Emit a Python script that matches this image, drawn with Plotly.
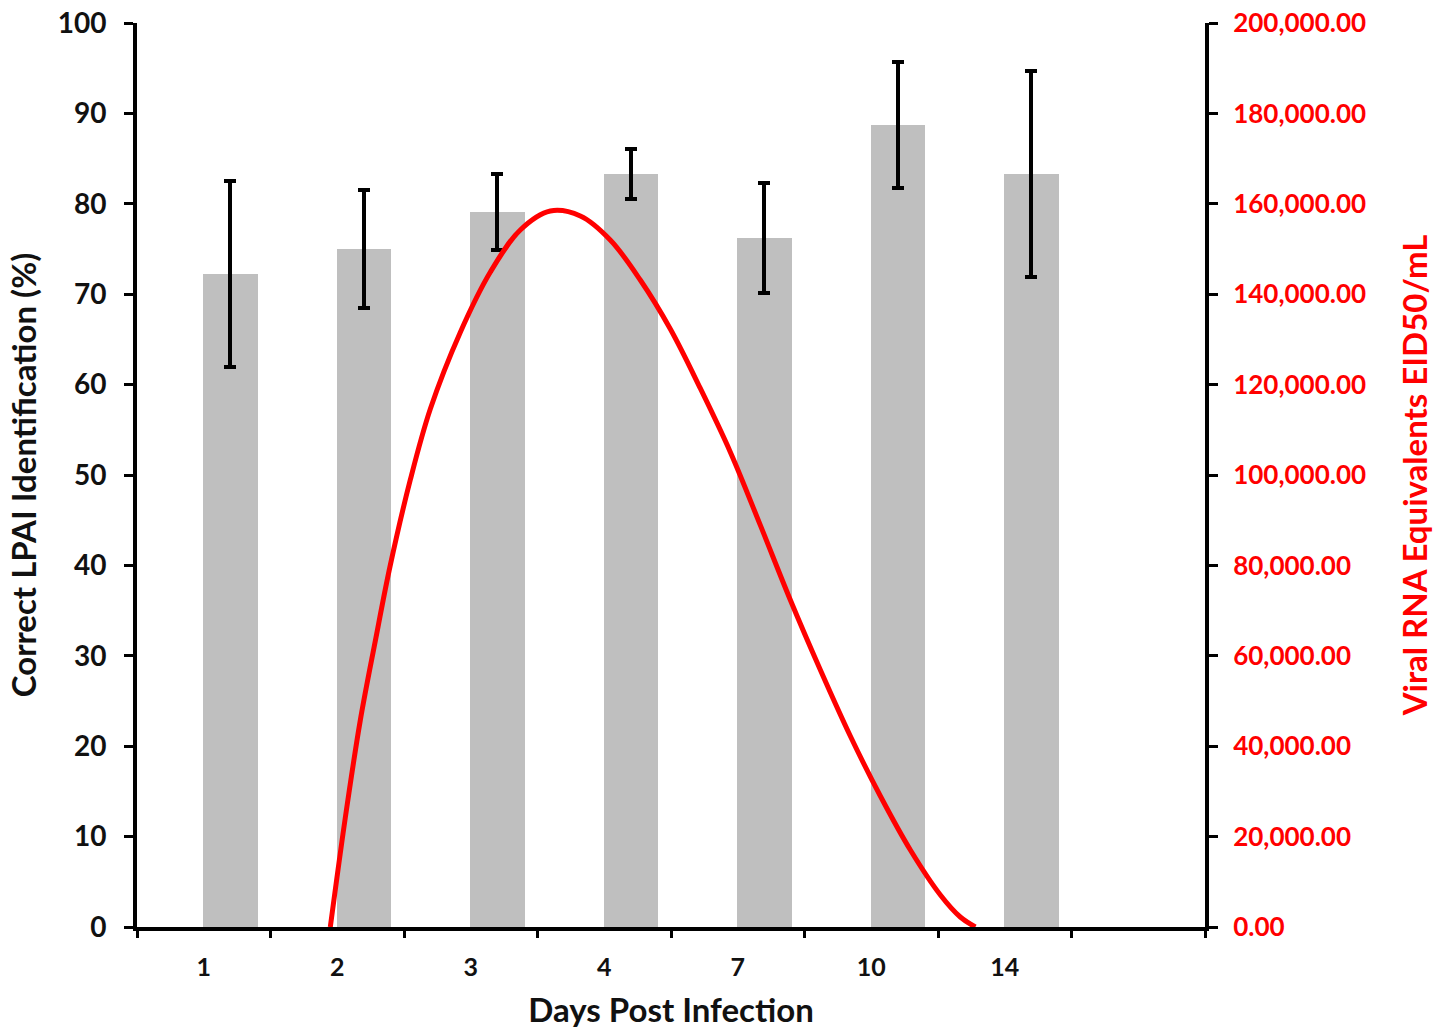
import plotly.graph_objects as go

# ---- data ----
days = ["1", "2", "3", "4", "7", "10", "14"]
correct_pct = [72.2, 75.0, 79.1, 83.3, 76.2, 88.7, 83.3]
correct_err = [10.3, 6.5, 4.2, 2.8, 6.1, 7.0, 11.4]

# viral RNA curve, read along the day-slot axis (slot units, 0..8)
viral_pos = [1.448, 1.560, 1.673, 1.785, 1.897, 2.047, 2.197, 2.422, 2.647, 2.871,
             3.096, 3.321, 3.545, 3.770, 3.995, 4.219, 4.444, 4.669, 4.894,
             5.119, 5.343, 5.568, 5.793, 6.018, 6.167, 6.280]
viral_load = [0, 24115, 45796, 63274, 80000, 98900, 114600, 131600, 144912, 154204,
              158400, 157301, 151992, 143142, 132300, 119200, 105100, 88900, 72345,
              56858, 42257, 28982, 17035, 7080, 2212, 0]

n_slots = 8
label_pos = [i + 0.5 for i in range(len(days))]
bar_pos = [i + 0.7 for i in range(len(days))]

FONT = "Lato"
INK = "#111111"

fig = go.Figure()
fig.add_trace(go.Bar(
    x=bar_pos, y=correct_pct, width=0.41,
    marker=dict(color="#BFBFBF", line=dict(width=0)),
    error_y=dict(type="data", array=correct_err, color="black", thickness=4, width=6),
    showlegend=False,
))
fig.add_trace(go.Scatter(
    x=viral_pos, y=viral_load, mode="lines",
    line=dict(color="#FF0000", width=5, shape="spline", smoothing=1.0),
    xaxis="x2", yaxis="y2", showlegend=False,
))

fig.update_layout(
    width=1447, height=1029,
    margin=dict(l=137, r=242, t=23, b=102),
    paper_bgcolor="white", plot_bgcolor="white",
    bargap=0,
    xaxis=dict(
        range=[0, n_slots], tickvals=label_pos, ticktext=days,
        ticks="", showgrid=False, zeroline=False, automargin=False,
        showline=True, linecolor="black", linewidth=4,
        ticklabelstandoff=15,
        tickfont=dict(family=FONT, size=25, color=INK, weight="bold"),
        title=dict(text="Days Post Infection", standoff=21,
                   font=dict(family=FONT, size=33, color=INK, weight="bold")),
    ),
    xaxis2=dict(
        range=[0, n_slots], overlaying="x", anchor="y", side="bottom",
        tickvals=list(range(n_slots + 1)), ticks="outside", ticklen=10, tickwidth=3,
        tickcolor="black", showticklabels=False, showgrid=False, zeroline=False,
        showline=False, automargin=False,
    ),
    yaxis=dict(
        range=[0, 100], tickvals=list(range(0, 101, 10)),
        ticks="outside", ticklen=9, tickwidth=3, tickcolor="black",
        showgrid=False, zeroline=False, automargin=False,
        showline=True, linecolor="black", linewidth=4,
        ticklabelstandoff=12,
        tickfont=dict(family=FONT, size=28, color=INK, weight="bold"),
        title=dict(text="Correct LPAI Identification (%)", standoff=12,
                   font=dict(family=FONT, size=33, color=INK, weight="bold")),
    ),
    yaxis2=dict(
        range=[0, 200000], tickvals=list(range(0, 200001, 20000)),
        tickformat=",.2f", overlaying="y", side="right", anchor="x2",
        ticks="outside", ticklen=9, tickwidth=3, tickcolor="black",
        showgrid=False, zeroline=False, automargin=False,
        showline=True, linecolor="black", linewidth=4,
        ticklabelstandoff=10,
        tickfont=dict(family=FONT, size=26, color="#FF0000", weight="bold"),
        title=dict(text="Viral RNA Equivalents EID50/mL", standoff=40,
                   font=dict(family=FONT, size=33, color="#FF0000", weight="bold")),
    ),
)

fig.write_html("out.html")
